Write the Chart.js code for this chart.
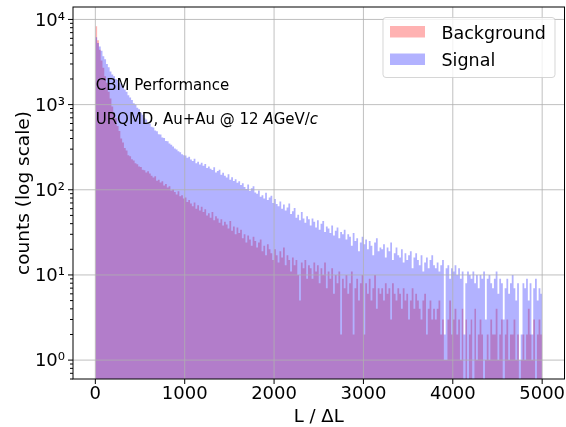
<!DOCTYPE html>
<html>
<head>
<meta charset="utf-8">
<script src="https://cdn.jsdelivr.net/npm/chart.js@4.4.0/dist/chart.umd.min.js"></script>
<style>
  html, body { margin: 0; padding: 0; background: #fff; }
  #wrap { width: 566px; height: 427px; }
</style>
</head>
<body>
<div id="wrap"><canvas id="chart" width="566" height="427"></canvas></div>
<script>
// histogram bins: 250 bins of width 20 from 0 to 5000
const binWidth = 20;

const backgroundCounts = [
  8300, 5700, 4400, 3300, 2700, 2150, 1800, 1420, 1180, 950,
  800, 690, 560, 490, 400, 360, 310, 290, 255, 248,
  228, 220, 205, 200, 188, 185, 172, 170, 160, 165,
  155, 146, 139, 144, 128, 131, 122, 126, 112, 117,
  106, 110, 98, 101, 94, 88, 96, 84, 86, 79,
  81, 72, 76, 69, 64, 71, 60, 66, 57, 63,
  55, 59, 50, 53, 47, 55, 44, 49, 46, 41,
  45, 38, 42, 39, 35, 43, 33, 37, 30, 36,
  31, 34, 27, 30, 24, 29, 26, 22, 28, 25,
  21, 24, 26, 19, 22, 17, 23, 20, 18, 15,
  20, 17, 14, 19, 16, 21, 13, 17, 15, 11,
  16, 13, 15, 10, 5, 14, 12, 15, 9, 13,
  12, 9, 14, 11, 13, 8, 12, 10, 14, 7,
  11, 9, 12, 6, 10, 8, 11, 2, 9, 7,
  10, 6, 8, 11, 2, 7, 9, 5, 8, 10,
  2, 8, 6, 9, 5, 7, 10, 4, 7, 6,
  7, 5, 8, 6, 7, 3, 8, 6, 5, 7,
  6, 4, 7, 5, 6, 3, 5, 7, 4, 6,
  5, 4, 3, 5, 6, 2, 4, 5, 3, 4,
  3, 4, 5, 2, 3, 1, 1, 3, 5, 2,
  3, 4, 2, 3, 1, 4, 0, 3, 0, 2,
  3, 0, 4, 1, 2, 3, 2, 0, 1, 2,
  1, 3, 2, 2, 4, 1, 2, 3, 0, 2,
  3, 1, 2, 2, 3, 1, 2, 0, 1, 2,
  1, 2, 4, 2, 1, 3, 0, 2, 3, 2
];

const signalCounts = [
  6200, 5300, 4800, 4300, 3700, 3400, 3000, 2750, 2450, 2250,
  2150, 2000, 1950, 1800, 1750, 1620, 1500, 1420, 1290, 1210,
  1130, 1040, 1000, 920, 880, 800, 760, 690, 670, 610,
  600, 550, 540, 495, 485, 450, 445, 410, 405, 375,
  372, 350, 338, 322, 305, 298, 284, 276, 262, 255,
  252, 238, 244, 226, 218, 232, 205, 214, 198, 207,
  192, 201, 180, 188, 176, 171, 184, 160, 166, 172,
  150, 158, 146, 139, 152, 131, 140, 127, 133, 121,
  126, 114, 119, 108, 102, 115, 97, 104, 110, 93,
  90, 98, 83, 86, 79, 92, 76, 81, 85, 70,
  78, 68, 64, 73, 60, 67, 57, 62, 69, 52,
  56, 61, 47, 51, 44, 55, 46, 41, 49, 45,
  38, 46, 42, 36, 44, 34, 40, 43, 32, 37,
  35, 31, 38, 29, 33, 36, 27, 32, 30, 34,
  26, 30, 28, 22, 31, 25, 27, 19, 24, 28,
  23, 26, 20, 25, 22, 17, 24, 27, 19, 21,
  20, 23, 16, 21, 19, 24, 15, 18, 21, 17,
  16, 20, 14, 18, 15, 17, 19, 12, 16, 18,
  15, 13, 17, 11, 14, 16, 12, 15, 17, 13,
  12, 14, 11, 13, 15, 2, 12, 13, 9, 12,
  11, 13, 10, 12, 9, 11, 2, 8, 11, 10,
  9, 11, 8, 10, 7, 10, 9, 11, 3, 9,
  10, 8, 7, 9, 11, 6, 9, 8, 3, 7,
  9, 6, 8, 10, 7, 5, 8, 1, 2, 8,
  7, 9, 5, 8, 2, 7, 9, 5, 7, 6
];

const seriesNames = ["Background", "Signal"];
const seriesColors = ["rgba(255,0,0,0.3)", "rgba(0,0,255,0.3)"];
const xTickValues = [0, 1000, 2000, 3000, 4000, 5000];
const yTickValues = [1, 10, 100, 1000, 10000];
const yTickLabels = ["10\u2070", "10\u00b9", "10\u00b2", "10\u00b3", "10\u2074"];
const xTitle = "L / \u0394L";
const yTitle = "counts (log scale)";
const noteTitle = "CBM Performance";
// [text, italic]
const noteLine = [["URQMD, Au+Au @ 12 ", false], ["A", true], ["GeV/", false], ["c", true]];

const FAMILY = '"DejaVu Sans", sans-serif';

// histogram outline: each bin becomes a flat step, empty bins break the fill
function toSteps(counts) {
  const pts = [];
  counts.forEach((c, i) => {
    const x0 = i * binWidth;
    if (c > 0) {
      pts.push({ x: x0, y: c }, { x: x0 + binWidth, y: c });
    } else {
      pts.push({ x: x0 + binWidth / 2, y: null });
    }
  });
  return pts;
}

const overlayPlugin = {
  id: "overlay",
  afterDatasetsDraw(chart) {
    const { ctx, chartArea: a, scales: { x, y } } = chart;
    ctx.save();

    // grid on top of the bars, like matplotlib
    ctx.strokeStyle = "#b0b0b0";
    ctx.lineWidth = 0.8;
    ctx.beginPath();
    xTickValues.forEach((v) => {
      const px = x.getPixelForValue(v);
      ctx.moveTo(px, a.top);
      ctx.lineTo(px, a.bottom);
    });
    yTickValues.forEach((v) => {
      const py = y.getPixelForValue(v);
      ctx.moveTo(a.left, py);
      ctx.lineTo(a.right, py);
    });
    ctx.stroke();

    // spines
    ctx.strokeStyle = "#000";
    ctx.lineWidth = 1;
    ctx.strokeRect(a.left, a.top, a.right - a.left, a.bottom - a.top);

    // tick marks
    ctx.beginPath();
    xTickValues.forEach((v) => {
      const px = x.getPixelForValue(v);
      ctx.moveTo(px, a.bottom);
      ctx.lineTo(px, a.bottom + 5);
    });
    yTickValues.forEach((v) => {
      const py = y.getPixelForValue(v);
      ctx.moveTo(a.left - 5, py);
      ctx.lineTo(a.left, py);
    });
    [0.1, 1, 10, 100, 1000, 10000].forEach((d) => {
      for (let k = 2; k <= 9; k++) {
        const v = d * k;
        if (v < y.min || v > y.max) continue;
        const py = y.getPixelForValue(v);
        ctx.moveTo(a.left - 3, py);
        ctx.lineTo(a.left, py);
      }
    });
    ctx.stroke();
    ctx.restore();
  },
  afterDraw(chart) {
    const { ctx, chartArea: a } = chart;
    ctx.save();
    ctx.fillStyle = "#000";

    // axis titles
    ctx.font = "18px " + FAMILY;
    ctx.textAlign = "center";
    ctx.textBaseline = "alphabetic";
    ctx.fillText(xTitle, (a.left + a.right) / 2, 421.5);
    ctx.save();
    ctx.translate(28.5, (a.top + a.bottom) / 2);
    ctx.rotate(-Math.PI / 2);
    ctx.font = "18.5px " + FAMILY;
    ctx.fillText(yTitle, 0, 0);
    ctx.restore();

    // annotations
    ctx.textAlign = "left";
    ctx.font = "15px " + FAMILY;
    ctx.fillText(noteTitle, 95.7, 89.5);
    let tx = 95.7;
    noteLine.forEach(([t, it]) => {
      ctx.font = (it ? "italic " : "") + "15px " + FAMILY;
      ctx.fillText(t, tx, 123.5);
      tx += ctx.measureText(t).width;
    });

    // legend
    ctx.beginPath();
    ctx.roundRect(383, 17.5, 172, 60, 3);
    ctx.fillStyle = "rgba(255,255,255,0.8)";
    ctx.fill();
    ctx.strokeStyle = "rgba(204,204,204,0.8)";
    ctx.lineWidth = 1;
    ctx.stroke();
    ctx.font = "17.5px " + FAMILY;
    seriesNames.forEach((name, i) => {
      const top = 26 + i * 27.5;
      ctx.fillStyle = seriesColors[i];
      ctx.fillRect(390, top, 35, 11.5);
      ctx.fillStyle = "#000";
      ctx.fillText(name, 441.5, top + 12.5);
    });
    ctx.restore();
  },
};

const stepStyle = { borderWidth: 0, pointRadius: 0, fill: "start", tension: 0, spanGaps: false };

new Chart(document.getElementById("chart"), {
  type: "line",
  data: {
    datasets: [
      { ...stepStyle, label: seriesNames[0], data: toSteps(backgroundCounts), backgroundColor: seriesColors[0], order: 2 },
      { ...stepStyle, label: seriesNames[1], data: toSteps(signalCounts), backgroundColor: seriesColors[1], order: 1 },
    ],
  },
  options: {
    responsive: false,
    animation: false,
    devicePixelRatio: 1,
    layout: { padding: { top: 7, right: 1.5, left: 0, bottom: 0 } },
    plugins: { legend: { display: false }, tooltip: { enabled: false } },
    scales: {
      x: {
        type: "linear",
        min: -250,
        max: 5250,
        afterFit(s) {
          s.height = 48;
          s.paddingLeft = 0;
          s.paddingRight = 0;
        },
        afterBuildTicks(s) { s.ticks = xTickValues.map((v) => ({ value: v })); },
        grid: { display: false, drawTicks: false },
        border: { display: false },
        ticks: {
          padding: 5,
          color: "#000",
          autoSkip: false,
          maxRotation: 0,
          font: { family: FAMILY, size: 18 },
          callback: (v) => String(v),
        },
      },
      y: {
        type: "logarithmic",
        min: 0.63,
        max: 14000,
        afterFit(s) {
          s.width = 73;
          s.paddingTop = 0;
          s.paddingBottom = 0;
        },
        afterBuildTicks(s) { s.ticks = yTickValues.map((v) => ({ value: v })); },
        grid: { display: false, drawTicks: false },
        border: { display: false },
        ticks: {
          padding: 8,
          labelOffset: 1.5,
          color: "#000",
          autoSkip: false,
          font: { family: FAMILY, size: 18 },
          callback: (v) => yTickLabels[yTickValues.indexOf(v)],
        },
      },
    },
  },
  plugins: [overlayPlugin],
});
</script>
</body>
</html>
